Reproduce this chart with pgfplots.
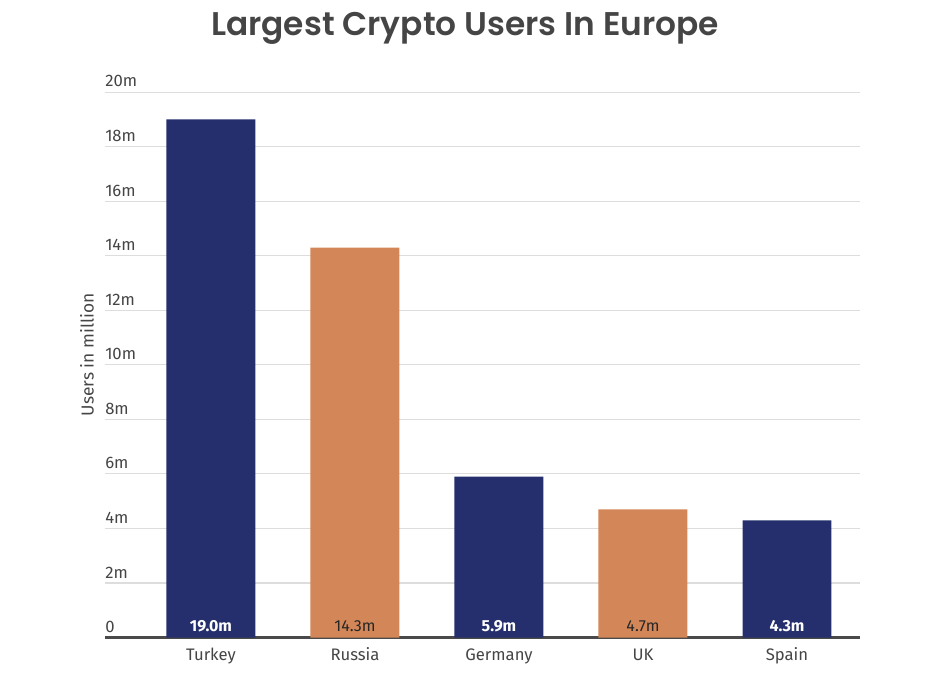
\documentclass[border=0pt]{standalone}
\usepackage{pgfplots}
\pgfplotsset{compat=1.18}
\usepackage{fontspec}
\setmainfont{Fira Sans}
\newfontfamily\titlefont{Poppins}[BoldFont={Poppins SemiBold}]
\definecolor{navy}{HTML}{252F6D}
\definecolor{orng}{HTML}{D38758}
\definecolor{txt}{HTML}{454545}
\definecolor{gridc}{HTML}{DDDDDD}
\definecolor{axc}{HTML}{4A4A4A}
\begin{document}
\begin{tikzpicture}
\begin{axis}[
  scale only axis,
  width=566.25pt, height=409.1pt,
  xmin=-0.736, xmax=4.507,
  ymin=0, ymax=20,
  ybar, bar width=0.618, bar shift=0pt,
  axis x line*=bottom, axis y line*=left,
  x axis line style={draw=axc, line width=1.8pt},
  y axis line style={draw=none},
  xtick={0,1,2,3,4},
  xticklabels={Turkey,Russia,Germany,UK,Spain},
  xtick style={draw=none},
  ytick={0,2,4,6,8,10,12,14,16,18,20},
  yticklabels={0,2m,4m,6m,8m,10m,12m,14m,16m,18m,20m},
  ytick style={draw=none},
  ymajorgrids, grid style={gridc, line width=0.8pt},
  yticklabel style={anchor=south west, inner sep=0pt, yshift=3.5pt, font=\fontsize{12.5}{14}\selectfont, text=txt},
  xticklabel style={font=\fontsize{12.5}{14}\selectfont, text=txt, text height=9.5pt, text depth=3pt},
  ylabel={Users in million},
  ylabel style={at={(axis description cs:-0.0238,0.518)}, anchor=center, font=\fontsize{13}{15}\selectfont, text=txt},
  title={Largest Crypto Users In Europe},
  title style={at={(axis description cs:0.4768,1)}, anchor=center, yshift=41.5pt, font=\titlefont\bfseries\fontsize{24.6}{28}\selectfont, text=txt},
  /pgf/number format/assume math mode=true,
]
\addplot[fill=navy, draw=none] coordinates {(0,19.0) (2,5.9) (4,4.3)};
\addplot[fill=orng, draw=none] coordinates {(1,14.3) (3,4.7)};
\addplot[draw=none, fill=none, nodes near coords, point meta=explicit symbolic,
  every node near coord/.style={anchor=south, inner sep=0pt, yshift=4pt, text=white, font=\bfseries\fontsize{12}{14}\selectfont}]
  coordinates {(0,0) [19.0m] (2,0) [5.9m] (4,0) [4.3m]};
\addplot[draw=none, fill=none, nodes near coords, point meta=explicit symbolic,
  every node near coord/.style={anchor=south, inner sep=0pt, yshift=4pt, text=black!85, font=\fontsize{12}{14}\selectfont}]
  coordinates {(1,0) [14.3m] (3,0) [4.7m]};
\end{axis}
\path (current axis.south west) ++(-78.75pt,-38.6pt) rectangle ++(696.75pt,516.75pt);
\end{tikzpicture}
\end{document}
